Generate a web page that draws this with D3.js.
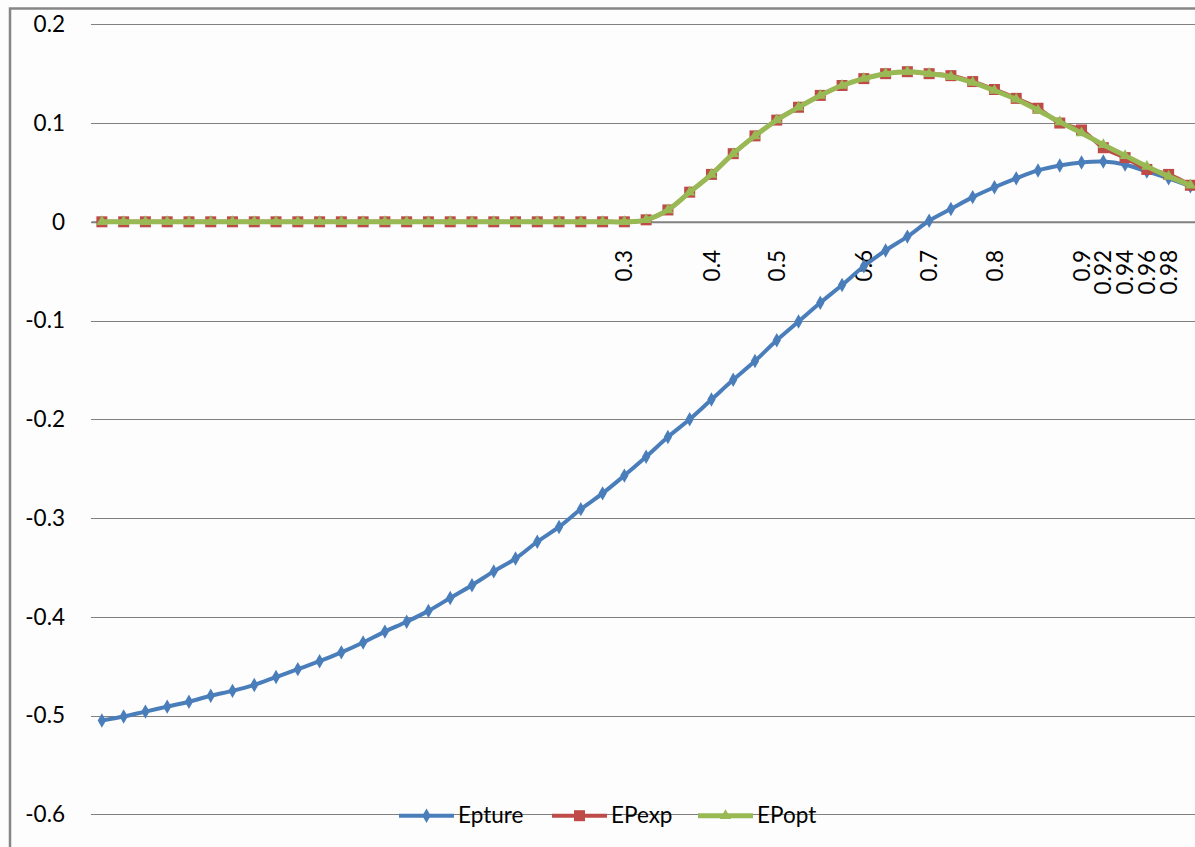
<!DOCTYPE html>
<html><head><meta charset="utf-8">
<script src="https://cdn.jsdelivr.net/npm/d3@7"></script>
<style>
html,body{margin:0;padding:0;background:#fff;}
svg{display:block;}
text{font-family: Lato, "Open Sans", sans-serif; fill:#000;}
</style></head><body>
<svg id="chart" width="1195" height="847"></svg>
<script>
// ---- data ----
const categories = ["","","","","","","","","","","","","","","","","","","","","","","","",
  "0.3","","","","0.4","","","0.5","","","","0.6","","","0.7","","","0.8","","","",
  "0.9","0.92","0.94","0.96","0.98",""];
const seriesNames = ["Epture","EPexp","EPopt"];
const epture = [-0.505,-0.501,-0.496,-0.491,-0.486,-0.480,-0.475,-0.469,-0.461,-0.453,
  -0.445,-0.436,-0.426,-0.415,-0.405,-0.394,-0.381,-0.368,-0.354,-0.341,
  -0.324,-0.309,-0.291,-0.275,-0.257,-0.238,-0.218,-0.200,-0.180,-0.160,
  -0.141,-0.120,-0.101,-0.082,-0.064,-0.045,-0.029,-0.015,0.001,0.013,
  0.025,0.035,0.044,0.052,0.057,0.060,0.061,0.058,0.051,0.044,0.036];
const epexp = [0,0,0,0,0,0,0,0,0,0,0,0,0,0,0,0,0,0,0,0,0,0,0,0,0,
  0.002,0.012,0.030,0.048,0.069,0.087,0.103,0.116,0.128,0.138,0.145,0.150,0.152,0.150,0.148,
  0.142,0.134,0.125,0.115,0.100,0.093,0.075,0.065,0.053,0.048,0.037];
const epopt = [0,0,0,0,0,0,0,0,0,0,0,0,0,0,0,0,0,0,0,0,0,0,0,0,0,
  0.002,0.012,0.030,0.048,0.069,0.087,0.103,0.116,0.128,0.138,0.145,0.150,0.152,0.150,0.147,
  0.141,0.133,0.124,0.113,0.101,0.090,0.078,0.067,0.056,0.046,0.037];
const yTicks = [0.2,0.1,0,-0.1,-0.2,-0.3,-0.4,-0.5,-0.6];
const yTickLabels = ["0.2","0.1","0","-0.1","-0.2","-0.3","-0.4","-0.5","-0.6"];
const colors = ["#4A7EBB","#BE4B48","#98B954"];

// ---- layout ----
const svg = d3.select("#chart");
const plotLeft = 91, band = 21.77, plotTop = 24.3, plotBottom = 814.3;
const x = d3.scaleBand().domain(d3.range(categories.length))
  .range([plotLeft, plotLeft + band*categories.length]).padding(0);
const xc = i => x(i) + x.bandwidth()/2;
const y = d3.scaleLinear().domain([-0.6, 0.2]).range([plotBottom, plotTop]);

svg.append("rect").attr("width",1195).attr("height",847).attr("fill","#fdfdfd");
// chart border
svg.append("path").attr("d","M10,847 L10,8.5 L1195,8.5")
  .attr("fill","none").attr("stroke","#868686").attr("stroke-width",2.5);

// gridlines + y labels
const yAxis = d3.axisLeft(y).tickValues(yTicks).tickSize(-(1195-plotLeft)).tickPadding(26)
  .tickFormat((d,i)=>yTickLabels[i]);
const gy = svg.append("g").attr("transform",`translate(${plotLeft},0)`).call(yAxis);
gy.select(".domain").remove();
gy.selectAll(".tick line").attr("stroke","#808080").attr("stroke-width",1)
  .attr("shape-rendering","crispEdges");
gy.selectAll(".tick text").attr("font-size",22.5).attr("fill","#000")
  .attr("font-family","Lato, 'Open Sans', sans-serif");

// x axis at y=0
const xAxis = d3.axisBottom(x).tickSize(0).tickFormat(i=>categories[i]);
const gx = svg.append("g").attr("transform",`translate(0,${y(0)})`).call(xAxis);
gx.select(".domain").attr("stroke","#808080").attr("stroke-width",2);
gx.selectAll(".tick text").attr("font-size",22.5).attr("fill","#000")
  .attr("font-family","Lato, 'Open Sans', sans-serif")
  .attr("text-anchor","end").attr("transform","rotate(-90)")
  .attr("x",-(250 - y(0))).attr("y",0).attr("dy","0.36em");

// series
const line = d3.line().x((d,i)=>xc(i)).y(d=>y(d)).curve(d3.curveCatmullRom.alpha(0.5));
const data = [epture, epexp, epopt];
const widths = [4, 4, 5];
const symbols = [d3.symbolDiamond, d3.symbolSquare, d3.symbolTriangle];
const symSizes = [60, 121, 55];
data.forEach((vals,k)=>{
  const g = svg.append("g");
  g.append("path").datum(vals).attr("d",line).attr("fill","none")
    .attr("stroke",colors[k]).attr("stroke-width",widths[k]).attr("stroke-linejoin","round");
  g.selectAll("path.m").data(vals).join("path").attr("class","m")
    .attr("transform",(d,i)=>`translate(${xc(i)},${y(d)})`)
    .attr("d",d3.symbol().type(symbols[k]).size(symSizes[k]))
    .attr("fill",colors[k]);
});

// legend
const legX = [399, 552, 698];
const legY = 815.7;
seriesNames.forEach((name,k)=>{
  const g = svg.append("g").attr("transform",`translate(${legX[k]},${legY})`);
  g.append("line").attr("x1",0).attr("x2",55).attr("stroke",colors[k]).attr("stroke-width",widths[k]);
  g.append("path").attr("transform","translate(27.5,0)")
    .attr("d",d3.symbol().type(symbols[k]).size(symSizes[k])).attr("fill",colors[k]);
  g.append("text").attr("x",59).attr("y",7).attr("font-size",22.5).text(name);
});
</script>
</body></html>
